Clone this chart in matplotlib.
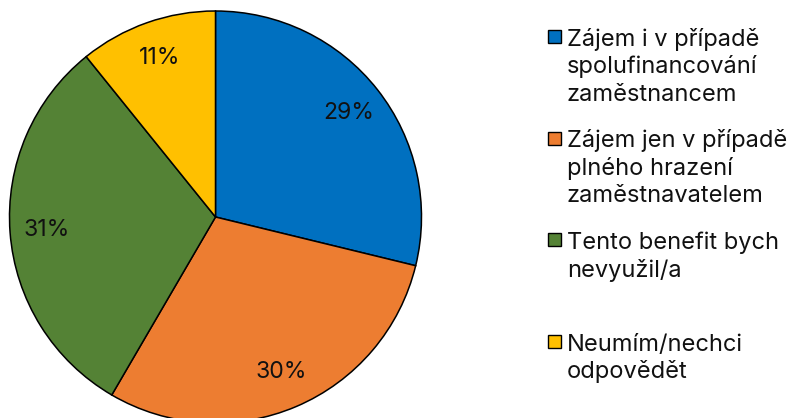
import matplotlib as mpl
import matplotlib.pyplot as plt
from matplotlib.patches import Rectangle

mpl.use("Agg")
plt.rcParams["font.family"] = ["Inter", "DejaVu Sans"]

labels = [
    ["Zájem i v případě", "spolufinancování", "zaměstnancem"],
    ["Zájem jen v případě", "plného hrazení", "zaměstnavatelem"],
    ["Tento benefit bych", "nevyužil/a"],
    ["Neumím/nechci", "odpovědět"],
]
shares = [28.8, 29.6, 30.8, 10.8]
pct_labels = ["29%", "30%", "31%", "11%"]
colors = ["#0070C0", "#ED7D31", "#548235", "#FFC000"]

W, H = 792, 418
fig = plt.figure(figsize=(W / 100, H / 100), dpi=100)

# pie axes placed in pixel terms
cx, cy, r = 215.5, 217, 206
ax = fig.add_axes([(cx - r) / W, (H - cy - r) / H, 2 * r / W, 2 * r / H])
wedges, texts, autotexts = ax.pie(
    shares, colors=colors, startangle=90, counterclock=False,
    autopct="%1.0f%%", pctdistance=0.82,
    wedgeprops=dict(edgecolor="black", linewidth=1.1),
    textprops=dict(fontsize=16.6, color="#111111"))
for t, s in zip(autotexts, pct_labels):
    t.set_text(s)
ax.set_xlim(-1, 1)
ax.set_ylim(-1, 1)
ax.set_aspect("equal")

# legend drawn by hand: every entry gets the same 3-line slot
line_h = 27.5
for i, (lines, col) in enumerate(zip(labels, colors)):
    base = 46 + 101.5 * i
    fig.patches.append(Rectangle((548 / W, (H - base + 3) / H), 13 / W, 13 / H,
                                 transform=fig.transFigure, facecolor=col,
                                 edgecolor="black", linewidth=1.0))
    for j, txt in enumerate(lines):
        fig.text(567 / W, (H - base - j * line_h) / H, txt, fontsize=17,
                 color="#111111", va="baseline", ha="left")

fig.savefig("out.png", dpi=100)
plt.close()
